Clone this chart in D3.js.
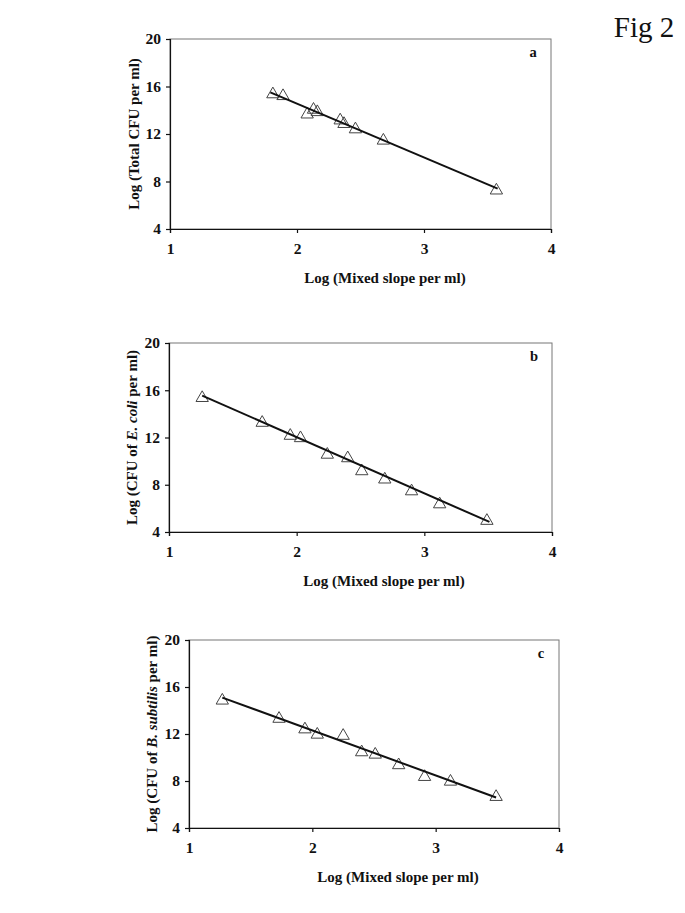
<!DOCTYPE html>
<html>
<head>
<meta charset="utf-8">
<script src="https://cdn.jsdelivr.net/npm/d3@7"></script>
<style>
  body { margin: 0; background: #fff; }
  svg { display: block; }
  text { font-family: "Times New Roman", "Liberation Serif", serif; fill: #111; }
</style>
</head>
<body>
<div id="chart"></div>
<script>
// values
var xTicks = [1, 2, 3, 4];
var yTicks = [4, 8, 12, 16, 20];

var xA = [1.81, 1.89, 2.08, 2.13, 2.16, 2.34, 2.37, 2.46, 2.68, 3.57];
var yA = [15.35, 15.2, 13.65, 14.05, 13.85, 13.15, 12.85, 12.4, 11.45, 7.25];
var fitA = [[1.79, 15.5], [3.58, 7.4]];

var xB = [1.26, 1.73, 1.95, 2.03, 2.24, 2.40, 2.51, 2.69, 2.90, 3.12, 3.49];
var yB = [15.35, 13.25, 12.15, 11.95, 10.55, 10.25, 9.15, 8.45, 7.45, 6.35, 4.95];
var fitB = [[1.26, 15.55], [3.51, 4.85]];

var xC = [1.27, 1.73, 1.94, 2.04, 2.25, 2.40, 2.51, 2.70, 2.91, 3.12, 3.49];
var yC = [14.85, 13.3, 12.4, 11.95, 11.85, 10.45, 10.25, 9.35, 8.35, 7.95, 6.65];
var fitC = [[1.27, 15.1], [3.49, 6.6]];

var svgWidth = 685;
var svgHeight = 913;

var svg = d3.select("#chart")
  .append("svg")
  .attr("width", svgWidth)
  .attr("height", svgHeight);

svg.append("text")
  .attr("x", 644)
  .attr("y", 37)
  .attr("text-anchor", "middle")
  .style("font-size", "29px")
  .text("Fig 2");

function drawPanel(p) {
  var g = svg.append("g")
    .attr("transform", `translate(${p.left}, ${p.top})`);

  var x = d3.scaleLinear().domain([1, 4]).range([0, p.w]);
  var y = d3.scaleLinear().domain([4, 20]).range([p.h, 0]);

  // frame
  g.append("rect")
    .attr("width", p.w)
    .attr("height", p.h)
    .attr("fill", "none")
    .attr("stroke", "#777")
    .attr("stroke-width", 1);

  var bottomAxis = d3.axisBottom(x).tickValues(xTicks).tickSize(4).tickPadding(7).tickFormat(d3.format("d"));
  var leftAxis = d3.axisLeft(y).tickValues(yTicks).tickSize(4).tickPadding(5).tickFormat(d3.format("d"));

  var bx = g.append("g")
    .attr("transform", `translate(0, ${p.h})`)
    .call(bottomAxis);
  var ly = g.append("g").call(leftAxis);

  [bx, ly].forEach(function(a) {
    a.selectAll("path, line").attr("stroke", "#111").attr("stroke-width", 1.2);
    a.selectAll("text")
      .style("font-size", "15.5px")
      .style("font-weight", "bold")
      .style("font-family", "'Times New Roman', 'Liberation Serif', serif")
      .attr("fill", "#111");
  });
  bx.selectAll("text").attr("dy", "0.9em");

  // points
  var pts = p.xs.map(function(d, i) { return { x: d, y: p.ys[i] }; });
  g.selectAll(".pt")
    .data(pts)
    .enter()
    .append("path")
    .attr("class", "pt")
    .attr("d", d3.symbol().type(d3.symbolTriangle).size(66))
    .attr("transform", d => `translate(${x(d.x)}, ${y(d.y)})`)
    .attr("fill", "none")
    .attr("stroke", "#444")
    .attr("stroke-width", 1);

  // trend line
  g.append("path")
    .datum(p.fit)
    .attr("fill", "none")
    .attr("stroke", "#111")
    .attr("stroke-width", 2)
    .attr("d", d3.line().x(d => x(d[0])).y(d => y(d[1])));

  // panel letter
  g.append("text")
    .attr("x", p.w - 18)
    .attr("y", 18)
    .attr("text-anchor", "middle")
    .style("font-size", "14.5px")
    .style("font-weight", "bold")
    .text(p.letter);

  // x title
  svg.append("text")
    .attr("x", p.xTitleX)
    .attr("y", p.top + p.h + 54)
    .attr("text-anchor", "middle")
    .style("font-size", "15px")
    .style("font-weight", "bold")
    .text("Log (Mixed slope per ml)");

  // y title
  var yt = svg.append("text")
    .attr("transform", `translate(${p.yTitleX}, ${p.top + p.h / 2}) rotate(-90)`)
    .attr("text-anchor", "middle")
    .style("font-size", "15px")
    .style("font-weight", "bold");
  p.yTitle.forEach(function(part) {
    yt.append("tspan")
      .style("font-style", part[1] ? "italic" : "normal")
      .text(part[0]);
  });
}

drawPanel({
  left: 170, top: 39, w: 381, h: 190,
  xs: xA, ys: yA, fit: fitA, letter: "a",
  xTitleX: 385, yTitleX: 139,
  yTitle: [["Log (Total CFU per ml)", false]]
});

drawPanel({
  left: 169, top: 343, w: 383, h: 189,
  xs: xB, ys: yB, fit: fitB, letter: "b",
  xTitleX: 384, yTitleX: 137,
  yTitle: [["Log (CFU of ", false], ["E. coli", true], [" per ml)", false]]
});

drawPanel({
  left: 189, top: 640, w: 370, h: 188,
  xs: xC, ys: yC, fit: fitC, letter: "c",
  xTitleX: 398, yTitleX: 157,
  yTitle: [["Log (CFU of ", false], ["B. subtilis", true], [" per ml)", false]]
});
</script>
</body>
</html>
